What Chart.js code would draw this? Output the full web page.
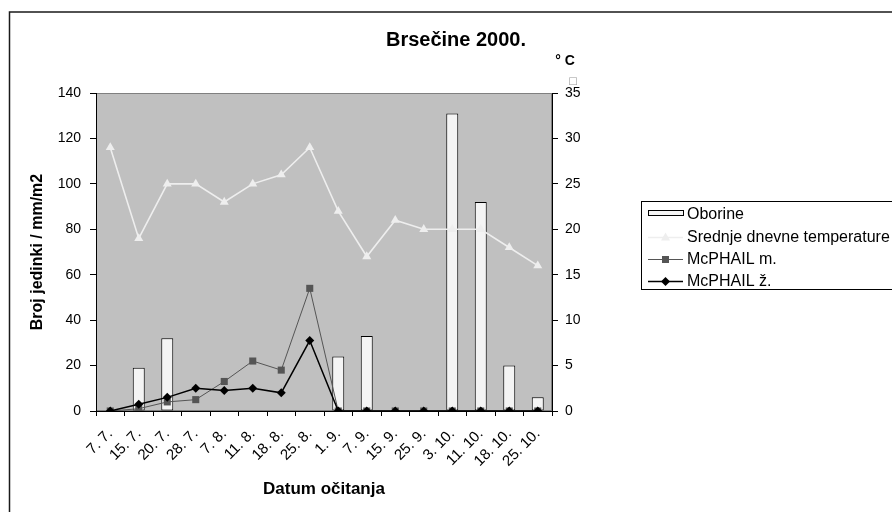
<!DOCTYPE html>
<html lang="hr">
<head>
    <meta charset="UTF-8">
    <title>Brsečine 2000.</title>
    <script src="https://cdn.jsdelivr.net/npm/chart.js@4.4.0/dist/chart.umd.min.js"></script>
    <style>
        html, body { margin: 0; padding: 0; background: #fff; }
        canvas { display: block; }
    </style>
</head>
<body>
    <canvas id="chart" width="892" height="512"></canvas>
    <script>
        // podaci očitani sa slike
        const datumi = ['7. 7.', '15. 7.', '20. 7.', '28. 7.', '7. 8.', '11. 8.', '18. 8.', '25. 8.',
                        '1. 9.', '7. 9.', '15. 9.', '25. 9.', '3. 10.', '11. 10.', '18. 10.', '25. 10.'];
        const oborine = [0, 19, 32, 0, 0, 0, 0, 0, 24, 33, 0, 0, 131, 92, 20, 6];
        const temperature = [29, 19, 25, 25, 23, 25, 26, 29, 22, 17, 21, 20, 20, 20, 18, 16];
        const mcphailM = [0, 1, 4, 5, 13, 22, 18, 54, 0, 0, 0, 0, 0, 0, 0, 0];
        const mcphailZ = [0, 3, 6, 10, 9, 10, 8, 31, 0, 0, 0, 0, 0, 0, 0, 0];
        const lijeviTicks = [0, 20, 40, 60, 80, 100, 120, 140];
        const desniTicks = [0, 5, 10, 15, 20, 25, 30, 35];

        const FONT = '"Liberation Sans", Arial, sans-serif';
        const svijetla = '#eeeeee';

        // siva pozadina plot područja i okvir
        const pozadina = {
            id: 'pozadina',
            beforeDraw(chart) {
                const { ctx, chartArea: a } = chart;
                ctx.save();
                ctx.fillStyle = '#c0c0c0';
                ctx.fillRect(a.left, a.top, a.right - a.left, a.bottom - a.top);
                ctx.strokeStyle = '#808080';
                ctx.lineWidth = 1;
                ctx.strokeRect(a.left + 0.5, a.top + 0.5, a.right - a.left - 1, a.bottom - a.top - 1);
                ctx.restore();
            }
        };

        function marker(ctx, tip, x, y, boja) {
            ctx.fillStyle = boja;
            ctx.beginPath();
            if (tip === 'triangle') {
                ctx.moveTo(x, y - 5);
                ctx.lineTo(x + 4.5, y + 3);
                ctx.lineTo(x - 4.5, y + 3);
            } else if (tip === 'rect') {
                ctx.rect(x - 3.5, y - 3.5, 7, 7);
            } else {
                ctx.moveTo(x, y - 4.5);
                ctx.lineTo(x + 4.5, y);
                ctx.lineTo(x, y + 4.5);
                ctx.lineTo(x - 4.5, y);
            }
            ctx.closePath();
            ctx.fill();
        }

        // naslovi, legenda, okvir
        const tekstovi = {
            id: 'tekstovi',
            afterDraw(chart) {
                const { ctx, chartArea: a } = chart;
                ctx.save();
                ctx.fillStyle = '#000';
                ctx.textAlign = 'center';
                ctx.textBaseline = 'middle';

                ctx.font = 'bold 20px ' + FONT;
                ctx.fillText('Brsečine 2000.', 456, 40);

                ctx.font = 'bold 14px ' + FONT;
                ctx.fillText('° C', 565, 61);
                ctx.fillStyle = '#999';
                ctx.font = '10px "DejaVu Sans"';
                ctx.fillText('□', 573, 81);
                ctx.fillStyle = '#000';

                ctx.font = 'bold 17px ' + FONT;
                ctx.fillText('Datum očitanja', (a.left + a.right) / 2, 489);
                ctx.font = 'bold 16px ' + FONT;
                ctx.save();
                ctx.translate(38, (a.top + a.bottom) / 2);
                ctx.rotate(-Math.PI / 2);
                ctx.fillText('Broj jedinki / mm/m2', 0, 0);
                ctx.restore();

                // legenda
                ctx.lineWidth = 1;
                ctx.strokeStyle = '#000';
                ctx.strokeRect(641.5, 201.5, 300, 88);
                const ds = chart.data.datasets;
                const redovi = [214, 237, 259, 281];
                ctx.font = '16px ' + FONT;
                ctx.textAlign = 'left';
                ds.forEach((d, i) => {
                    const y = redovi[i];
                    if (d.type === 'bar') {
                        ctx.fillStyle = d.backgroundColor;
                        ctx.fillRect(648.5, y - 3.5, 35, 5);
                        ctx.strokeStyle = '#000';
                        ctx.lineWidth = 1;
                        ctx.strokeRect(648.5, y - 3.5, 35, 5);
                    } else {
                        ctx.strokeStyle = d.borderColor;
                        ctx.lineWidth = d.borderWidth;
                        ctx.beginPath();
                        ctx.moveTo(648, y + 0.5);
                        ctx.lineTo(683, y + 0.5);
                        ctx.stroke();
                        marker(ctx, d.pointStyle, 665.5, y + 0.5, d.pointBackgroundColor);
                    }
                    ctx.fillStyle = '#000';
                    ctx.fillText(d.label, 687, y + 1);
                });

                // okvir grafikona
                ctx.strokeStyle = '#1a1a1a';
                ctx.lineWidth = 1.5;
                ctx.strokeRect(9.5, 12, 900, 520);
                ctx.restore();
            }
        };

        const ctx = document.getElementById('chart').getContext('2d');
        new Chart(ctx, {
            type: 'bar',
            data: {
                labels: datumi,
                datasets: [{
                    type: 'bar',
                    label: 'Oborine',
                    data: oborine,
                    yAxisID: 'y',
                    backgroundColor: '#f4f4f4',
                    borderColor: '#000',
                    borderWidth: 1,
                    borderSkipped: false,
                    barPercentage: 0.42,
                    categoryPercentage: 1,
                    order: 4
                }, {
                    type: 'line',
                    label: 'Srednje dnevne temperature',
                    data: temperature,
                    yAxisID: 'y2',
                    borderColor: svijetla,
                    borderWidth: 1.6,
                    pointStyle: 'triangle',
                    pointRadius: 5.2,
                    pointBackgroundColor: svijetla,
                    pointBorderColor: svijetla,
                    pointBorderWidth: 0,
                    tension: 0,
                    order: 3
                }, {
                    type: 'line',
                    label: 'McPHAIL m.',
                    data: mcphailM,
                    yAxisID: 'y',
                    borderColor: '#555555',
                    borderWidth: 1,
                    pointStyle: 'rect',
                    pointRadius: 5,
                    pointBackgroundColor: '#555555',
                    pointBorderColor: '#555555',
                    pointBorderWidth: 0,
                    tension: 0,
                    order: 2
                }, {
                    type: 'line',
                    label: 'McPHAIL ž.',
                    data: mcphailZ,
                    yAxisID: 'y',
                    borderColor: '#000000',
                    borderWidth: 1.5,
                    pointStyle: 'rectRot',
                    pointRadius: 4.5,
                    pointBackgroundColor: '#000000',
                    pointBorderColor: '#000000',
                    pointBorderWidth: 0,
                    tension: 0,
                    order: 1
                }]
            },
            options: {
                responsive: false,
                animation: false,
                layout: { padding: { top: 93, left: 0, right: 0, bottom: 0 } },
                plugins: {
                    legend: { display: false },
                    title: { display: false },
                    tooltip: { enabled: false }
                },
                scales: {
                    x: {
                        offset: true,
                        grid: { offset: true, drawOnChartArea: false, drawTicks: true, tickLength: 5, color: '#000' },
                        border: { color: '#000', width: 1 },
                        ticks: {
                            autoSkip: false, maxRotation: 45, minRotation: 45, padding: 9,
                            color: '#000', font: { family: FONT, size: 15 }
                        },
                        afterFit: s => { s.height = 101; }
                    },
                    y: {
                        position: 'left',
                        min: 0, max: 140,
                        afterBuildTicks: s => { s.ticks = lijeviTicks.map(v => ({ value: v })); },
                        grid: { drawOnChartArea: false, drawTicks: true, tickLength: 6, color: '#000' },
                        border: { color: '#000', width: 1 },
                        ticks: { padding: 9, color: '#000', font: { family: FONT, size: 14 } },
                        afterFit: s => { s.width = 96; }
                    },
                    y2: {
                        position: 'right',
                        min: 0, max: 35,
                        afterBuildTicks: s => { s.ticks = desniTicks.map(v => ({ value: v })); },
                        grid: { drawOnChartArea: false, drawTicks: true, tickLength: 6, color: '#000' },
                        border: { color: '#000', width: 1 },
                        ticks: { padding: 7, color: '#000', font: { family: FONT, size: 14 } },
                        afterFit: s => { s.width = 340; }
                    }
                }
            },
            plugins: [pozadina, tekstovi]
        });
    </script>
</body>
</html>
